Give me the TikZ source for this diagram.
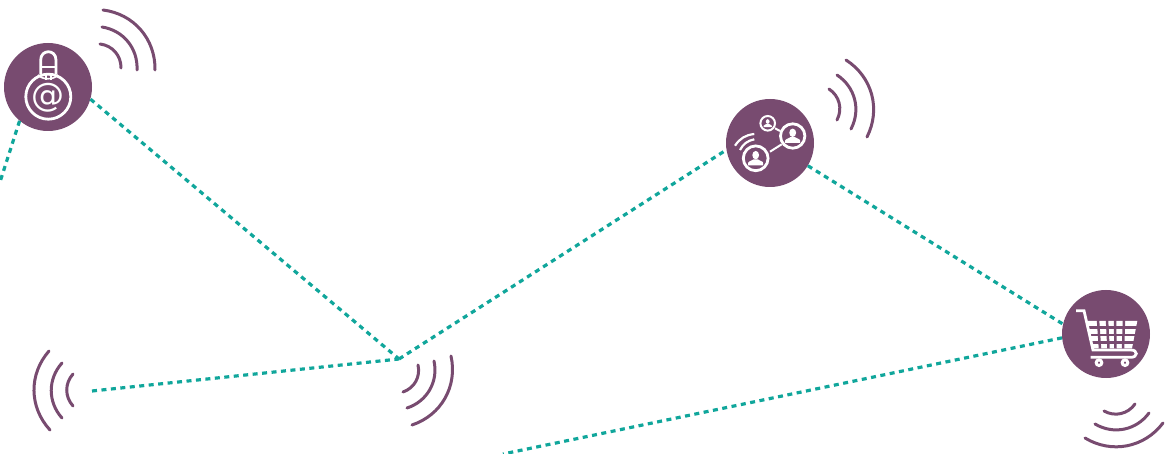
\documentclass[tikz,border=0pt]{standalone}
\usepackage{fontspec}
\newfontfamily\atfont{DejaVu Sans}
\usetikzlibrary{positioning}
\definecolor{plum}{HTML}{784B70}
\definecolor{teal}{HTML}{10A69B}
\tikzset{
  hubnode/.style={circle,fill=plum,minimum size=88pt,inner sep=0pt},
  link/.style={teal,line width=3.2pt,dash pattern=on 5pt off 4.5pt},
  wave/.style={plum,line width=3pt,line cap=round},
  icon/.style={white,line width=2.8pt},
  person/.pic={
    \fill[white] (0,-3.2) ellipse (3.4pt and 4.2pt);
    \fill[white] (-7.5,7) -- (-7.5,4.5) .. controls (-7,2.5) and (-3,2.5) .. (-2,1) -- (2,1) .. controls (3,2.5) and (7,2.5) .. (7.5,4.5) -- (7.5,7) -- cycle;
  }
}
\begin{document}
\begin{tikzpicture}[x=1pt,y=-1pt]
  \useasboundingbox (0,0) rectangle (1165,454);
  \node[hubnode] (mail) at (48,87) {};
  \node[hubnode] (social) at (770,143) {};
  \node[hubnode] (cart) at (1106,334) {};
  \coordinate (junction) at (399,359);
  \coordinate (leftend) at (92,391);
  \coordinate (offleft) at (0,182);
  \coordinate (offbottom) at (503,454);
  \draw[link] (mail.-130) -- (offleft);
  \draw[link] (mail.-16) -- (junction);
  \draw[link] (leftend) -- (junction);
  \draw[link] (junction) -- (social.189);
  \draw[link] (social.-31) -- (cart.167);
  \draw[link] (cart.185) -- (offbottom);
  % waves
  \foreach \xa/\ya/\xb/\yb in {103/10/155/70,102/27/137/70,100/44/121/68,
      846/60/867/137,837/75/851/129,829/89/837/120,
      1163/423/1085/438,1149/413/1095/424,1135/404/1104/411,
      451/356/412/425,434/361/407/408,418/365/403/392,
      50/430/49/351,62/418/62/363,73/406/73/374}
    \draw[wave] (\xa,\ya) to[bend left=42] (\xb,\yb);
  % bulb
  \draw[icon] (48.3,96.7) circle (22.5pt);
  \draw[icon] (40.7,74) -- (40.7,60) .. controls (40.7,49) and (56,49) .. (56,60) -- (56,74);
  \draw[icon,line width=1.6pt] (40.7,67) -- (56,67) (38,75) .. controls (42,80) and (54,80) .. (58,75);
  \draw[icon,line width=1.2pt] (46,74) -- (46,80) (51,74) -- (51,80);
  \node[white,inner sep=0pt,font=\atfont\fontsize{33}{33}\selectfont] (at) at (48.3,98) {@};
  % social
  \draw[icon] (792.7,136) circle (12.2pt) (755.7,158.3) circle (12.4pt);
  \draw[icon,line width=2pt] (767.7,123.3) circle (7.3pt);
  \draw[icon,line width=2pt] (770,151.7) -- (781.7,144.3) (775,128.3) -- (780,131);
  \draw[icon,line width=2.2pt] (754.3,134) to[bend right=25] (735,145.7) (754.3,139.3) to[bend right=25] (740,150);
  \pic at (792.7,136) {person};
  \pic at (755.7,158.3) {person};
  \pic[scale=.55] at (767.7,123.3) {person};
  % cart
  \fill[white] (1086.5,321) -- (1137.3,321) -- (1132,348.5) -- (1091.5,348.5) -- cycle;
  \draw[plum,line width=2.5pt] (1086,327.5) -- (1138,327.5) (1086,335) -- (1138,335) (1086,342.5) -- (1138,342.5);
  \draw[plum,line width=2.5pt] (1098,320) -- (1100,349) (1107,320) -- (1108.5,349) (1115,320) -- (1115.5,349) (1124,320) -- (1123,349);
  \draw[icon] (1076,310.7) -- (1084,310.7) -- (1093,350) -- (1131,350) .. controls (1138,350) and (1138,357.3) .. (1131,357.3) -- (1090.7,357.3);
  \foreach \wx in {1099,1125}
    \draw[white,fill=plum,line width=3pt] (\wx,362.7) circle (2.8pt);
\end{tikzpicture}
\end{document}
